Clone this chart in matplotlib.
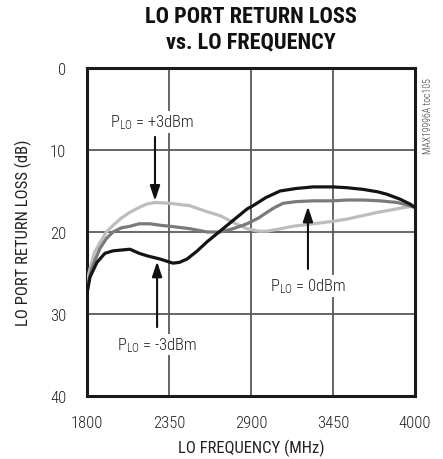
import matplotlib
matplotlib.use("Agg")
import matplotlib.pyplot as plt

FONT = ["Roboto Condensed", "DejaVu Sans"]
plt.rcParams['font.family'] = FONT
plt.rcParams['font.weight'] = 'light'
plt.rcParams['mathtext.fontset'] = 'custom'
plt.rcParams['mathtext.rm'] = 'Roboto Condensed:light'
plt.rcParams['mathtext.it'] = 'Roboto Condensed:light'

# ---- data ----
x_ticks = [1800, 2350, 2900, 3450, 4000]
y_ticks = [0, 10, 20, 30, 40]

f_m3 = [1800, 1820, 1867, 1920, 1974, 2088, 2150, 2202, 2290, 2377, 2420, 2471, 2540, 2605,
        2712, 2779, 2873, 2913, 3000, 3095, 3200, 3316, 3450, 3544, 3651, 3750, 3812, 3900, 3967, 4000]
rl_m3 = [27.5, 25.5, 23.7, 22.6, 22.3, 22.1, 22.6, 22.9, 23.3, 23.8, 23.7, 23.3, 22.3, 21.2,
         19.6, 18.6, 17.2, 16.8, 15.8, 15.0, 14.7, 14.5, 14.5, 14.6, 14.8, 15.1, 15.4, 16.0, 16.6, 17.0]

f_0 = [1800, 1830, 1887, 1930, 1974, 2030, 2088, 2150, 2223, 2300, 2357, 2491, 2605, 2692,
       2780, 2873, 2950, 3007, 3060, 3115, 3200, 3316, 3450, 3544, 3651, 3765, 3880, 3967, 4000]
rl_0 = [27.0, 24.5, 22.0, 20.8, 20.0, 19.5, 19.3, 19.0, 19.0, 19.2, 19.3, 19.6, 20.0, 20.0,
        19.6, 19.0, 18.3, 17.6, 17.0, 16.5, 16.3, 16.2, 16.2, 16.1, 16.1, 16.2, 16.4, 16.8, 17.0]

f_p3 = [1800, 1820, 1850, 1887, 1930, 1974, 2030, 2088, 2150, 2200, 2256, 2357, 2491, 2600,
        2692, 2800, 2873, 2950, 3007, 3100, 3182, 3316, 3450, 3550, 3651, 3750, 3812, 3900, 3967, 4000]
rl_p3 = [26.0, 24.5, 22.5, 21.3, 20.0, 19.2, 18.3, 17.6, 17.0, 16.6, 16.4, 16.5, 16.8, 17.5,
         18.0, 19.0, 19.6, 19.9, 19.9, 19.6, 19.3, 19.0, 18.7, 18.4, 18.0, 17.6, 17.4, 17.1, 16.9, 17.0]

labels = ["$\\mathregular{P_{LO}}$ = +3dBm", "$\\mathregular{P_{LO}}$ = 0dBm", "$\\mathregular{P_{LO}}$ = -3dBm"]

TXT = "#222222"
fig = plt.figure(figsize=(4.43, 4.60), dpi=100)
ax = fig.add_axes([87/443, 1-397/460, (415-87)/443, (397-69)/460])

ax.plot(f_p3, rl_p3, color="#bdbdbd", lw=2.3, solid_capstyle='round', zorder=3)
ax.plot(f_0, rl_0, color="#7a7a7a", lw=2.3, solid_capstyle='round', zorder=4)
ax.plot(f_m3, rl_m3, color="#141414", lw=2.3, solid_capstyle='round', zorder=5)

ax.set_xlim(1800, 4000)
ax.set_ylim(40, 0)
ax.set_xticks(x_ticks)
ax.set_yticks(y_ticks)
ax.grid(True, color="#5a5a5a", lw=1.3)
ax.tick_params(length=0, labelsize=12, colors=TXT)
ax.tick_params(axis='x', pad=14)
ax.tick_params(axis='y', pad=15)
for s in ax.spines.values():
    s.set_linewidth(2.2)
    s.set_color("#1a1a1a")

ax.set_xlabel("LO FREQUENCY (MHz)", fontsize=12, color=TXT, labelpad=6)
ax.set_ylabel("LO PORT RETURN LOSS (dB)", fontsize=12, color=TXT, labelpad=13)

fig.text(251/443, 1-30/460, "LO PORT RETURN LOSS\nvs. LO FREQUENCY", ha="center", va="center",
         fontsize=16, fontweight="bold", color="#111111", linespacing=1.2)

fig.text(428/443, 1-116/460, "MAX19996A toc105", rotation=90, ha="center", va="center",
         fontsize=7, color="#333333")

arrowprops = dict(arrowstyle="-|>,head_length=0.9,head_width=0.3", color="#111111", lw=1.5,
                  shrinkA=0, shrinkB=0)
ax.annotate("", xy=(2256, 16.2), xytext=(2256, 8.4), arrowprops=arrowprops)
ax.annotate("", xy=(3282, 16.9), xytext=(3282, 24.5), arrowprops=arrowprops)
ax.annotate("", xy=(2270, 23.6), xytext=(2270, 31.6), arrowprops=arrowprops)

bb = dict(facecolor="white", edgecolor="none", pad=1)
ax.text(2236, 6.6, labels[0], ha="center", va="center", fontsize=12, color=TXT, bbox=bb, zorder=6)
ax.text(3282, 26.6, labels[1], ha="center", va="center", fontsize=12, color=TXT, bbox=bb, zorder=6)
ax.text(2270, 33.7, labels[2], ha="center", va="center", fontsize=12, color=TXT, bbox=bb, zorder=6)

fig.savefig("out.png", dpi=100)
